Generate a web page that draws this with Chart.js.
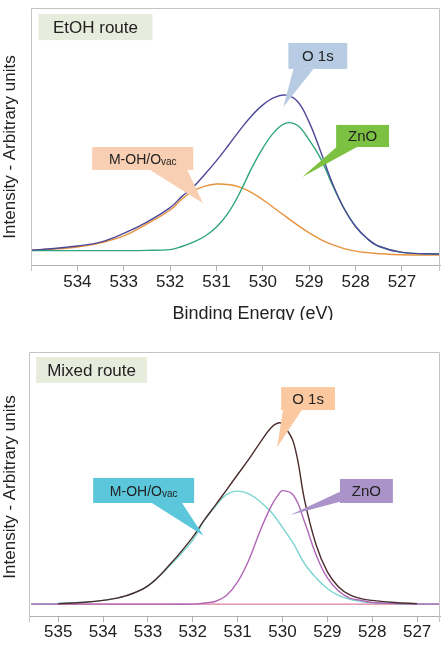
<!DOCTYPE html>
<html>
<head>
<meta charset="utf-8">
<script src="https://cdn.jsdelivr.net/npm/chart.js@4.4.1/dist/chart.umd.min.js"></script>
<style>
  body { margin: 0; background: #fff; }
  #wrap { position: relative; width: 448px; height: 670px; }
  canvas { position: absolute; left: 0; }
  #topChart { top: 0; }
  #bottomChart { top: 335px; }
</style>
</head>
<body>
<div id="wrap">
  <canvas id="topChart" width="448" height="320"></canvas>
  <canvas id="bottomChart" width="448" height="335"></canvas>
</div>
<script>
// EtOH route panel (binding energy in eV, intensity in arbitrary units)
const etohEnergy = [535, 534.5, 534, 533.5, 533, 532.5, 532, 531.75, 531.5, 531.25, 531, 530.75, 530.5, 530.25, 530,
  529.75, 529.5, 529.25, 529, 528.75, 528.5, 528.25, 528, 527.75, 527.5, 527, 526.2];
const etohO1s = [5.8, 6.4, 7.4, 8.9, 12.3, 16.7, 22.3, 26.6, 30.4, 35.3, 40.6, 46.4, 52.4, 57.9, 62.3,
  65.2, 66.1, 63.6, 55.5, 44.0, 31.8, 22.0, 15.0, 10.3, 7.3, 4.9, 4.3];
const etohZnO = [5.6, 5.6, 5.6, 5.6, 5.6, 5.7, 6.0, 7.2, 8.9, 11.2, 14.8, 20.2, 28.0, 37.4, 45.5,
  51.8, 55.2, 54.3, 48.6, 41.3, 31.1, 22.0, 15.0, 10.3, 7.3, 4.9, 4.3];
const etohMOH = [5.8, 6.2, 7.0, 8.6, 11.3, 16.0, 21.4, 25.6, 28.8, 30.7, 31.5, 31.3, 30.3, 28.3, 25.4,
  22.1, 18.8, 15.5, 12.5, 9.9, 7.9, 6.4, 5.4, 4.8, 4.4, 4.0, 3.9];
const etohTicks = [534, 533, 532, 531, 530, 529, 528, 527];

// Mixed route panel
const mixedEnergy = [535.6, 535, 534.5, 534, 533.5, 533, 532.5, 532, 531.75, 531.5, 531.25, 531, 530.75, 530.5,
  530.25, 530.1, 530, 529.75, 529.5, 529.25, 529, 528.75, 528.5, 528.25, 528, 527.5, 527, 526.5];
const mixedO1s = [null, 4.7, 5.1, 5.9, 7.6, 11.4, 19.7, 29.9, 36.2, 41.9, 47.7, 53.6, 59.4, 65.7,
  71.4, 73.1, 72.7, 65.5, 43.2, 26.9, 16.7, 11.0, 8.0, 6.6, 5.9, 5.1, 4.7, null];
const mixedZnO = [4.5, 4.5, 4.5, 4.5, 4.5, 4.5, 4.5, 4.5, 4.9, 5.5, 7.8, 12.9, 21.2, 32.2,
  41.7, 45.8, 47.5, 45.6, 35.2, 23.1, 14.4, 9.5, 6.8, 5.9, 5.1, 4.7, 4.5, 4.5];
const mixedMOH = [4.5, 4.7, 5.1, 5.9, 7.6, 11.4, 19.3, 28.8, 36.0, 41.5, 46.0, 47.3, 46.3, 43.4,
  39.3, 36.0, 33.6, 27.2, 19.6, 14.4, 10.4, 7.8, 6.3, 5.5, 5.0, 4.7, 4.5, 4.5];
const mixedBackground = [4.5, 4.5, 4.5, 4.5, 4.5, 4.5, 4.5, 4.5, 4.5, 4.5, 4.5, 4.5, 4.5, 4.5,
  4.5, 4.5, 4.5, 4.5, 4.5, 4.5, 4.5, 4.5, 4.5, 4.5, 4.5, 4.5, 4.5, 4.5];
const mixedTicks = [535, 534, 533, 532, 531, 530, 529, 528, 527];

const FONT = '"Liberation Sans", Arial, sans-serif';
Chart.defaults.font.family = FONT;

function toPoints(energy, values) {
  return energy.map((x, i) => ({ x, y: values[i] })).filter(p => p.y !== null);
}

function lineSet(label, energy, values, color) {
  return {
    label,
    data: toPoints(energy, values),
    borderColor: color,
    borderWidth: 1.4,
    pointRadius: 0,
    fill: false,
    tension: 0.4
  };
}

// cadre gris autour de la zone de tracé
const framePlugin = {
  id: 'frame',
  afterDraw(chart, args, opts) {
    const { ctx, chartArea: a } = chart;
    ctx.save();
    ctx.strokeStyle = opts.color;
    ctx.lineWidth = 1;
    ctx.beginPath();
    ctx.moveTo(a.left + 0.5, a.bottom + 6);
    ctx.lineTo(a.left + 0.5, a.top + 0.5);
    ctx.lineTo(a.right - 0.5, a.top + 0.5);
    ctx.lineTo(a.right - 0.5, a.bottom + 6);
    ctx.stroke();
    ctx.restore();
  }
};

// étiquettes en bulle, placées en coordonnées de données
const calloutPlugin = {
  id: 'callouts',
  afterDatasetsDraw(chart, args, opts) {
    const { ctx, scales } = chart;
    const px = p => [scales.x.getPixelForValue(p[0]), scales.y.getPixelForValue(p[1])];
    opts.items.forEach(c => {
      const [x0, y0] = px([c.box[0], c.box[1]]);
      const [x1, y1] = px([c.box[2], c.box[3]]);
      ctx.save();
      ctx.fillStyle = c.bg;
      if (c.tip) {
        const t = px(c.tip);
        const b0 = px(c.base[0]);
        const b1 = px(c.base[1]);
        ctx.beginPath();
        ctx.moveTo(b0[0], b0[1]);
        ctx.lineTo(t[0], t[1]);
        ctx.lineTo(b1[0], b1[1]);
        ctx.closePath();
        ctx.fill();
      }
      const left = Math.min(x0, x1), top = Math.min(y0, y1);
      const w = Math.abs(x1 - x0), h = Math.abs(y1 - y0);
      ctx.fillRect(left, top, w, h);

      ctx.fillStyle = c.color || '#222';
      ctx.textBaseline = 'alphabetic';
      ctx.textAlign = 'left';
      const mainFont = c.size + 'px ' + FONT;
      const subFont = Math.round(c.size * 0.72) + 'px ' + FONT;
      ctx.font = mainFont;
      const wMain = ctx.measureText(c.text).width;
      let wSub = 0;
      if (c.sub) {
        ctx.font = subFont;
        wSub = ctx.measureText(c.sub).width;
      }
      const startX = left + w / 2 - (wMain + wSub) / 2;
      const baseY = top + h / 2 + c.size * 0.36;
      ctx.font = mainFont;
      ctx.fillText(c.text, startX, baseY);
      if (c.sub) {
        ctx.font = subFont;
        ctx.fillText(c.sub, startX + wMain, baseY + 1);
      }
      ctx.restore();
    });
  }
};

// titres d'axes dessinés à la main pour coller au placement de l'original
const axisTitlePlugin = {
  id: 'axisTitles',
  afterDraw(chart, args, opts) {
    const { ctx } = chart;
    ctx.save();
    ctx.fillStyle = '#222';
    ctx.textAlign = 'center';
    ctx.textBaseline = 'alphabetic';
    ctx.font = opts.xSize + 'px ' + FONT;
    ctx.fillText(opts.xText, opts.xPos[0], opts.xPos[1]);
    ctx.translate(opts.yPos[0], opts.yPos[1]);
    ctx.rotate(-Math.PI / 2);
    ctx.font = opts.ySize + 'px ' + FONT;
    ctx.fillText(opts.yText, 0, 0);
    ctx.restore();
  }
};

function buildChart(id, cfg) {
  return new Chart(document.getElementById(id), {
    type: 'line',
    data: { datasets: cfg.datasets },
    options: {
      responsive: false,
      animation: false,
      events: [],
      layout: { padding: cfg.padding },
      scales: {
        x: {
          type: 'linear',
          reverse: true,
          min: cfg.min,
          max: cfg.max,
          afterBuildTicks: scale => {
            scale.ticks = cfg.ticks.map(v => ({ value: v }));
          },
          afterFit: scale => { scale.height = cfg.axisHeight; },
          border: { display: true, color: '#b0b0b0', width: 1 },
          grid: { drawOnChartArea: false, drawTicks: true, tickLength: 6, color: '#b0b0b0' },
          ticks: { color: '#222', padding: cfg.tickPad, maxRotation: 0, font: { size: 17 } }
        },
        y: { display: false, min: 0, max: 100 }
      },
      plugins: {
        legend: { display: false },
        tooltip: { enabled: false },
        frame: { color: '#c4c4c4' },
        callouts: { items: cfg.callouts },
        axisTitles: cfg.titles
      }
    },
    plugins: [framePlugin, calloutPlugin, axisTitlePlugin]
  });
}

buildChart('topChart', {
  min: 526.18,
  max: 535,
  ticks: etohTicks,
  padding: { left: 31, top: 8, right: 8, bottom: 0 },
  axisHeight: 55,
  tickPad: 1,
  datasets: [
    lineSet('O 1s', etohEnergy, etohO1s, '#4e4898'),
    lineSet('ZnO', etohEnergy, etohZnO, '#2ea57a'),
    lineSet('M-OH/Ovac', etohEnergy, etohMOH, '#e8923e')
  ],
  callouts: [
    { text: 'EtOH route', bg: '#e7ecdd', size: 17, box: [534.84, 97.7, 532.38, 87.5] },
    { text: 'O 1s', bg: '#b7cbe3', size: 15, box: [529.45, 86.4, 528.18, 76.3],
      base: [[529.34, 76.3], [528.91, 76.3]], tip: [529.56, 61.5] },
    { text: 'ZnO', bg: '#7cc142', size: 15, box: [528.42, 54.5, 527.28, 45.9],
      base: [[528.41, 45.9], [527.97, 45.9]], tip: [529.15, 34.2] },
    { text: 'M-OH/O', sub: 'vac', bg: '#f8cfb2', size: 14, box: [533.68, 45.9, 531.5, 37.0],
      base: [[532.43, 37.0], [531.63, 37.0]], tip: [531.29, 24.0] }
  ],
  titles: {
    xText: 'Binding Energy (eV)', xSize: 18, xPos: [253, 319],
    yText: 'Intensity - Arbitrary units', ySize: 17, yPos: [15, 147]
  }
});

buildChart('bottomChart', {
  min: 526.49,
  max: 535.65,
  ticks: mixedTicks,
  padding: { left: 29, top: 17, right: 8, bottom: 0 },
  axisHeight: 54,
  tickPad: 0,
  datasets: [
    lineSet('O 1s', mixedEnergy, mixedO1s, '#4b2b2b'),
    lineSet('ZnO', mixedEnergy, mixedZnO, '#b066b6'),
    lineSet('M-OH/Ovac', mixedEnergy, mixedMOH, '#7ad6cf'),
    lineSet('Background', mixedEnergy, mixedBackground, '#e07f9e')
  ],
  callouts: [
    { text: 'Mixed route', bg: '#e7ecdd', size: 17, box: [535.49, 98.1, 533.02, 88.3] },
    { text: 'O 1s', bg: '#fbc8a0', size: 15, box: [530.03, 86.7, 528.83, 78.0],
      base: [[529.99, 78.0], [529.57, 78.0]], tip: [530.12, 63.9] },
    { text: 'ZnO', bg: '#a993c9', size: 15, box: [528.72, 51.9, 527.54, 42.8],
      base: [[528.72, 47.1], [528.72, 43.3]], tip: [529.83, 38.3] },
    { text: 'M-OH/O', sub: 'vac', bg: '#5cc7db', size: 14, box: [534.22, 52.3, 531.97, 42.8],
      base: [[532.91, 42.8], [532.24, 42.8]], tip: [531.76, 30.4] }
  ],
  titles: {
    xText: 'Binding Energy (eV)', xSize: 18, xPos: [253, 668],
    yText: 'Intensity - Arbitrary units', ySize: 17, yPos: [15, 152]
  }
});
</script>
</body>
</html>
